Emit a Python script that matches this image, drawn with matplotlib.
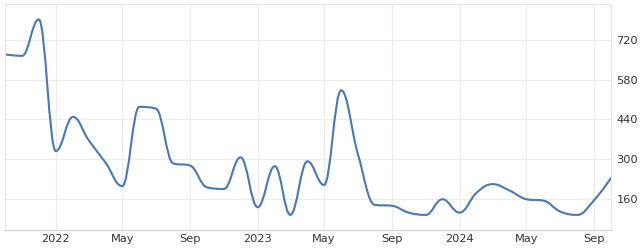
import numpy as np
import pandas as pd
import matplotlib
matplotlib.use('Agg')
import matplotlib.pyplot as plt
import matplotlib.dates as mdates
from matplotlib.path import Path
from matplotlib.patches import PathPatch

# Monthly values
dates = pd.date_range('2021-10-01', '2024-10-01', freq='MS')
values = [668, 663, 791, 329, 449, 368, 288, 206, 484, 478, 286, 278,
          202, 196, 307, 132, 276, 105, 293, 210, 542, 320, 140, 137,
          113, 105, 160, 113, 183, 213, 190, 160, 155, 117, 105, 158, 234]

y_ticks = [160, 300, 440, 580, 720]
x_ticks = ['2022-01-01', '2022-05-01', '2022-09-01', '2023-01-01',
           '2023-05-01', '2023-09-01', '2024-01-01', '2024-05-01', '2024-09-01']
x_labels = ['2022', 'May', 'Sep', '2023', 'May', 'Sep', '2024', 'May', 'Sep']

LINE = '#4a78b0'
GRID = '#ececec'
TEXT = '#333333'


def spline_path(xs, ys, smoothing=1.5):
    """Highcharts-style bezier spline through the points"""
    denom = smoothing + 1
    verts = [(xs[0], ys[0])]
    codes = [Path.MOVETO]
    n = len(xs)
    ctrl = []
    for i in range(n):
        if i == 0 or i == n - 1:
            ctrl.append(((xs[i], ys[i]), (xs[i], ys[i])))
            continue
        lx = (smoothing * xs[i] + xs[i - 1]) / denom
        ly = (smoothing * ys[i] + ys[i - 1]) / denom
        rx = (smoothing * xs[i] + xs[i + 1]) / denom
        ry = (smoothing * ys[i] + ys[i + 1]) / denom
        if rx != lx:
            corr = (ry - ly) * (rx - xs[i]) / (rx - lx) + ys[i] - ry
            ly += corr
            ry += corr
        if ly > ys[i - 1] and ly > ys[i]:
            ly = max(ys[i - 1], ys[i]); ry = 2 * ys[i] - ly
        elif ly < ys[i - 1] and ly < ys[i]:
            ly = min(ys[i - 1], ys[i]); ry = 2 * ys[i] - ly
        if ry > ys[i + 1] and ry > ys[i]:
            ry = max(ys[i + 1], ys[i]); ly = 2 * ys[i] - ry
        elif ry < ys[i + 1] and ry < ys[i]:
            ry = min(ys[i + 1], ys[i]); ly = 2 * ys[i] - ry
        ctrl.append(((lx, ly), (rx, ry)))
    for i in range(1, n):
        verts += [ctrl[i - 1][1], ctrl[i][0], (xs[i], ys[i])]
        codes += [Path.CURVE4] * 3
    return Path(verts, codes)


fig = plt.figure(figsize=(6.4, 2.48), dpi=100)
ax = fig.add_axes([5 / 640, 18 / 248, 606 / 640, 226 / 248])

xnum = mdates.date2num(dates)
path = spline_path(list(xnum), list(values))
ax.add_patch(PathPatch(path, facecolor='none', edgecolor=LINE, lw=1.5,
                       capstyle='round', joinstyle='round'))

ax.set_xlim(xnum[0], xnum[-1])
ax.set_ylim(52, 845)

ax.yaxis.tick_right()
ax.set_yticks(y_ticks)
ax.set_yticklabels([str(v) for v in y_ticks])
ax.set_xticks(mdates.date2num(pd.to_datetime(x_ticks)))
ax.set_xticklabels(x_labels)
ax.tick_params(axis='both', length=0, labelsize=8.2, colors=TEXT)
ax.tick_params(axis='y', pad=4)
ax.tick_params(axis='x', pad=3)

ax.grid(True, color=GRID, lw=0.8)
ax.set_axisbelow(True)
for side, sp in ax.spines.items():
    sp.set_color('#e4e4e4')
    sp.set_linewidth(0.8)
ax.spines['bottom'].set_color('#d0d0d0')

fig.savefig('out.png', dpi=100)
